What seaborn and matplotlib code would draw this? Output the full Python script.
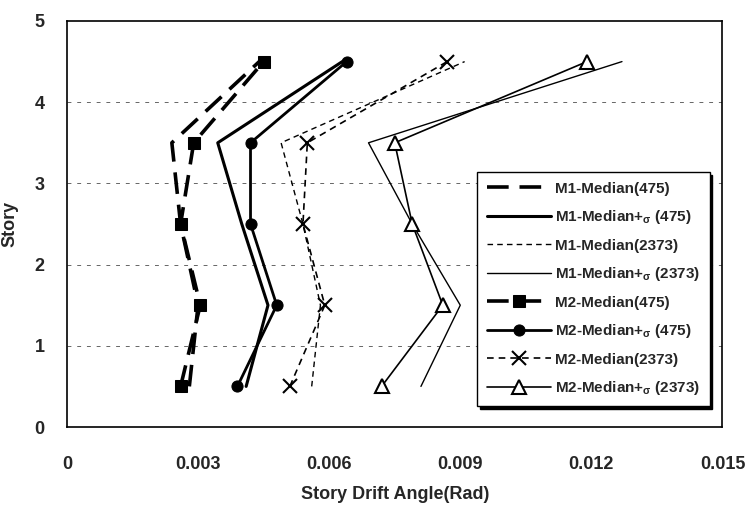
import matplotlib
matplotlib.use("Agg")
import matplotlib.pyplot as plt
import pandas as pd
import numpy as np
import seaborn as sns

# story levels (mid-height of each story)
story = [0.5, 1.5, 2.5, 3.5, 4.5]

# drift angles (rad)
m1_med_475 = [0.0028, 0.0030, 0.0026, 0.0024, 0.0044]
m1_sig_475 = [0.0041, 0.0046, 0.0040, 0.00345, 0.0063]
m1_med_2373 = [0.0056, 0.0058, 0.0054, 0.0049, 0.0091]
m1_sig_2373 = [0.0081, 0.0090, 0.0079, 0.0069, 0.0127]
m2_med_475 = [0.0026, 0.00305, 0.0026, 0.0029, 0.0045]
m2_sig_475 = [0.0039, 0.0048, 0.0042, 0.0042, 0.0064]
m2_med_2373 = [0.0051, 0.0059, 0.0054, 0.0055, 0.0087]
m2_sig_2373 = [0.0072, 0.0086, 0.0079, 0.0075, 0.0119]

sns.set_style("white")
plt.rcParams['font.family'] = ['Liberation Sans', 'DejaVu Sans']
plt.rcParams['font.weight'] = 'bold'
plt.rcParams['mathtext.default'] = 'regular'

fig = plt.figure(figsize=(7.5, 5.12), dpi=100)
ax = fig.add_axes([0.0893, 0.166, 0.874, 0.793])

# horizontal dashed grid
for yv in [1, 2, 3, 4]:
    ax.axhline(yv, color='#666666', lw=0.7, ls=(0, (4, 6)), zorder=0)

sig = r'$_{\sigma}$'
series = [
    ('M1-Median(475)', m1_med_475, dict(lw=2.6, ls=(0, (6, 3)), marker=None)),
    ('M1-Median' + '+' + sig + ' (475)', m1_sig_475, dict(lw=2.2, ls='-', marker=None)),
    ('M1-Median(2373)', m1_med_2373, dict(lw=1.0, ls=(0, (4, 3)), marker=None)),
    ('M1-Median' + '+' + sig + ' (2373)', m1_sig_2373, dict(lw=1.0, ls='-', marker=None)),
    ('M2-Median(475)', m2_med_475, dict(lw=2.6, ls=(0, (6, 3)), marker='s', ms=8,
                                        mfc='black', mec='black')),
    ('M2-Median' + '+' + sig + ' (475)', m2_sig_475, dict(lw=2.0, ls='-', marker='o', ms=8,
                                                     mfc='black', mec='black')),
    ('M2-Median(2373)', m2_med_2373, dict(lw=1.2, ls=(0, (4, 3)), marker='x', ms=10,
                                          mew=1.5, mec='black')),
    ('M2-Median' + '+' + sig + ' (2373)', m2_sig_2373, dict(lw=1.2, ls='-', marker='^', ms=10,
                                                       mfc='white', mec='black', mew=1.5)),
]

for name, vals, kw in series:
    df = pd.DataFrame({'drift': vals, 'story': story})
    sns.lineplot(data=df, x='drift', y='story', sort=False, estimator=None,
                 color='black', label=name, ax=ax, **kw)

ax.set_xlim(0, 0.015)
ax.set_ylim(0, 5)
ax.set_xticks([0, 0.003, 0.006, 0.009, 0.012, 0.015])
ax.set_xticklabels(['0', '0.003', '0.006', '0.009', '0.012', '0.015'])
ax.set_yticks([0, 1, 2, 3, 4, 5])
ax.tick_params(axis='x', labelsize=13, length=0, pad=21)
ax.tick_params(axis='y', labelsize=13, length=0, pad=16)
for lab in ax.get_xticklabels() + ax.get_yticklabels():
    lab.set_fontweight('bold')
ax.set_xlabel('Story Drift Angle(Rad)', fontsize=13, fontweight='bold', labelpad=9)
ax.set_ylabel('Story', fontsize=13, fontweight='bold', labelpad=12)
for sp in ax.spines.values():
    sp.set_color('black')
    sp.set_linewidth(1.2)

leg = ax.legend(loc='lower right', bbox_to_anchor=(0.992, 0.032), frameon=True,
                fancybox=False, shadow={'color': 'black', 'alpha': 1.0},
                prop={'weight': 'bold', 'size': 11}, handlelength=4.2,
                labelspacing=0.82, borderpad=0.6, handletextpad=0.3)
leg.get_frame().set_edgecolor('black')
leg.get_frame().set_linewidth(1.0)

fig.savefig('out.png', dpi=100)
